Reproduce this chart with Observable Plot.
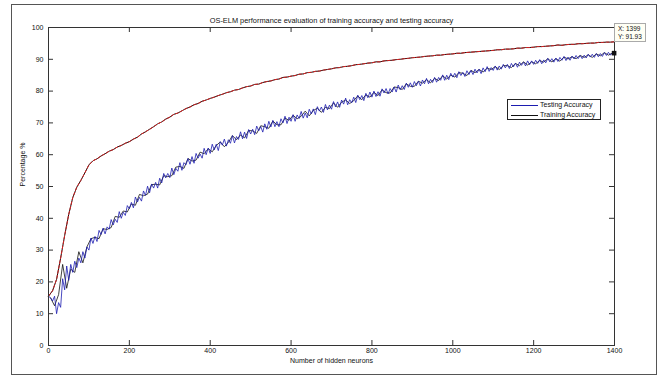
<!DOCTYPE html>
<html><head><meta charset="utf-8">
<script src="https://cdn.jsdelivr.net/npm/d3@7"></script>
<script src="https://cdn.jsdelivr.net/npm/@observablehq/plot@0.6"></script>
<style>
body{margin:0;background:#fff;}
#wrap{position:relative;width:659px;height:378px;font-family:"Liberation Sans",Arial,sans-serif;color:#111;}
#wrap svg{position:absolute;left:0;top:0;}
#outer{position:absolute;left:11px;top:4px;width:646px;height:371px;border:1px solid #555;box-sizing:border-box;pointer-events:none;}
#legend{position:absolute;left:507px;top:99px;width:94px;height:21px;border:1px solid #222;background:#fff;box-sizing:border-box;font-size:7px;}
#legend .row{position:absolute;left:3px;height:9px;line-height:9px;white-space:nowrap;}
#legend .sw{display:inline-block;width:27px;height:0;border-top:1px solid;vertical-align:middle;margin-right:2px;}
#tip{position:absolute;left:614px;top:23px;width:32px;height:19px;border:1px solid #aaa;background:#fffff4;box-sizing:border-box;font-size:6.5px;line-height:7.5px;padding:1px 0 0 3px;white-space:nowrap;}
</style></head>
<body>
<div id="wrap"><div id="outer"></div></div>
<script>
const title = "OS-ELM performance evaluation of training accuracy and testing accuracy";
const xLabel = "Number of hidden neurons";
const yLabel = "Percentage %";
const xTicks = [0,200,400,600,800,1000,1200,1400];
const yTicks = [0,10,20,30,40,50,60,70,80,90,100];
const seriesNames = ["Testing Accuracy","Training Accuracy"];
const tipX = 1399, tipY = 91.93;

// Training accuracy, neurons 0..1400 step 10
const trainingAcc = [
 15.5,17.2,20.8,27.5,34.6,41.2,46.5,49.8,51.9,54.3,
 56.8,58.1,58.7,59.6,60.3,61.1,61.6,62.4,62.9,63.6,
 64.1,64.9,65.5,66.5,67.2,68.0,68.8,69.7,70.3,71.2,
 71.8,72.7,73.1,73.8,74.5,75.0,75.7,76.1,76.8,77.2,
 77.7,78.1,78.6,79.0,79.5,79.8,80.3,80.5,81.0,81.4,
 81.6,82.1,82.2,82.7,83.0,83.2,83.6,83.8,84.3,84.4,
 84.7,84.9,85.3,85.4,85.8,85.9,86.2,86.3,86.6,86.8,
 87.0,87.3,87.4,87.7,87.8,88.0,88.3,88.4,88.6,88.8,
 88.9,89.2,89.2,89.5,89.6,89.7,89.9,90.0,90.2,90.3,
 90.5,90.6,90.7,90.9,91.0,91.1,91.3,91.3,91.5,91.6,
 91.7,91.9,91.9,92.1,92.2,92.3,92.4,92.5,92.6,92.7,
 92.8,93.0,93.0,93.2,93.2,93.3,93.5,93.5,93.7,93.7,
 93.8,94.0,94.0,94.1,94.2,94.3,94.5,94.4,94.6,94.7,
 94.7,94.9,94.9,95.0,95.1,95.1,95.3,95.3,95.4,95.4,
 95.5];

// Testing accuracy (blue trace), neurons 0..1400 step 5
const testingBlue = [
 15.5,15.0,14.0,15.5,10.0,13.5,12.0,21.0,17.5,25.0,20.5,25.5,23.0,26.5,24.5,27.5,26.0,29.5,27.5,31.0,30.0,
 33.8,32.1,34.3,32.7,36.2,34.9,36.9,35.1,37.3,36.6,
 39.6,37.9,39.7,38.7,42.1,40.0,41.9,40.9,44.0,43.0,
 45.0,43.3,46.7,45.1,46.6,45.4,48.6,47.2,50.1,48.0,
 50.8,49.5,51.3,49.5,52.6,51.1,54.1,52.7,54.1,52.8,
 55.8,53.7,55.7,54.8,57.5,55.1,57.5,56.8,58.8,57.0,
 59.4,57.3,60.4,58.9,60.2,58.9,62.0,60.0,62.1,60.4,
 63.3,61.5,63.3,61.3,64.1,63.0,64.9,62.7,64.7,63.6,
 66.0,63.7,65.7,64.8,67.2,65.0,67.1,65.1,67.9,66.5,
 68.0,66.3,69.0,67.5,68.8,67.1,69.7,68.0,70.5,68.7,
 70.8,68.8,70.4,68.8,71.3,70.0,72.1,69.8,71.8,70.5,
 72.6,70.5,72.5,71.4,73.6,71.5,73.1,71.6,74.3,72.8,
 74.4,72.6,75.1,73.7,75.0,73.3,75.8,74.1,75.6,74.3,
 76.7,75.0,76.6,74.9,77.2,75.9,77.8,75.7,77.3,76.3,
 78.1,76.4,78.7,77.3,78.6,77.0,79.3,77.9,79.7,78.1,
 80.0,78.3,79.8,78.4,80.7,79.4,80.8,79.1,80.8,79.7,
 81.3,79.7,81.9,80.4,81.7,80.5,82.5,81.2,82.6,81.2,
 83.0,81.7,83.1,81.6,83.5,82.3,84.0,82.3,83.7,82.7,
 84.3,82.8,84.3,83.4,85.1,83.4,85.0,83.6,85.6,84.4,
 85.6,84.2,86.1,84.9,85.9,84.6,86.4,85.2,86.5,85.2,
 86.9,85.7,86.9,85.5,87.3,86.1,87.7,86.2,87.4,86.5,
 87.9,86.6,87.9,86.9,88.4,87.3,88.4,87.1,88.7,87.6,
 88.8,87.5,89.1,88.1,89.1,87.9,89.5,88.3,89.5,88.4,
 89.7,88.7,89.9,88.6,89.8,88.9,90.3,89.2,90.2,89.1,
 90.4,89.3,90.6,89.7,90.9,89.6,90.7,89.7,91.0,90.1,
 91.2,90.2,91.2,90.2,91.3,90.4,91.6,90.7,91.6,90.6,
 91.8,90.8,91.8,90.9,92.1,91.2,92.2,91.3,92.1,91.93];

// Testing accuracy (black trace), neurons 5..1395 step 10
const testingBlack = [
 15.0,12.5,16.0,25.5,18.0,24.0,23.0,29.5,26.0,31.0,
 33.6,34.0,33.6,36.7,36.5,37.1,40.6,40.3,42.3,42.0,
 44.5,44.1,47.5,47.1,47.6,50.6,50.7,50.5,53.4,53.1,
 53.4,56.1,56.3,55.7,58.8,58.0,58.3,60.8,60.3,61.9,
 60.9,62.9,64.0,62.5,63.9,66.0,64.7,66.2,65.3,67.6,
 67.5,66.7,69.1,68.8,68.3,70.6,69.4,69.4,71.5,70.8,
 72.4,71.3,72.1,73.7,72.2,73.9,74.6,73.3,74.9,74.5,
 76.3,74.9,76.5,77.2,76.1,77.0,78.5,77.3,78.8,78.1,
 79.6,78.6,80.4,79.5,79.4,81.3,81.1,80.5,82.3,81.5,
 81.5,83.1,82.5,83.6,82.6,84.0,83.3,84.8,83.8,85.0,
 84.4,85.8,85.6,84.9,86.5,85.8,86.8,86.0,87.2,86.8,
 87.7,86.8,88.0,88.0,87.4,88.7,88.0,89.2,88.2,89.2,
 88.6,89.6,89.1,90.2,89.2,90.2,89.4,90.7,90.1,90.8,
 90.2,91.2,90.6,91.4,90.6,91.7,91.1,92.1,91.3,92.0];

const train = trainingAcc.map((y,i)=>({x:i*10, y}));
const blue = testingBlue.map((y,i)=>({x:i*5, y}));
const black = testingBlack.map((y,i)=>({x:5+i*10, y}));

const axisColor = "#333";
const ink = "#111";
const plot = Plot.plot({
  width:659, height:378,
  marginLeft:48, marginRight:45, marginTop:27, marginBottom:33,
  style:{fontFamily:"'Liberation Sans', Arial, sans-serif", fontSize:"7px", background:"transparent", color:ink},
  x:{domain:[0,1400]},
  y:{domain:[0,100]},
  marks:[
    Plot.line(black,{x:"x", y:"y", stroke:"#111", strokeWidth:0.8}),
    Plot.line(blue,{x:"x", y:"y", stroke:"#1c1cb0", strokeWidth:0.8}),
    Plot.line(train,{x:"x", y:"y", stroke:"#111", strokeWidth:1}),
    Plot.line(train,{x:"x", y:"y", stroke:"#d42222", strokeWidth:1, strokeDasharray:"3,2"}),
    Plot.frame({stroke:axisColor}),
    Plot.tickX(xTicks,{x:d=>d, insetTop:313, stroke:axisColor}),
    Plot.tickX(xTicks,{x:d=>d, insetBottom:313, stroke:axisColor}),
    Plot.tickY(yTicks,{y:d=>d, insetRight:561, stroke:axisColor}),
    Plot.tickY(yTicks,{y:d=>d, insetLeft:561, stroke:axisColor}),
    Plot.axisX(xTicks,{tickSize:0, tickPadding:3, label:null, tickFormat:d3.format("d"), fill:ink}),
    Plot.axisY(yTicks,{tickSize:0, tickPadding:5, label:null, tickFormat:d3.format("d"), fill:ink}),
    Plot.dot([{x:tipX, y:tipY}],{x:"x", y:"y", symbol:"square", fill:"#111", r:2.6}),
    Plot.text([title],{frameAnchor:"top", dy:-10, fontSize:7.4, fill:ink}),
    Plot.text([xLabel],{frameAnchor:"bottom", dy:17, fontSize:7, fill:ink}),
    Plot.text([yLabel],{frameAnchor:"left", dx:-26, rotate:-90, fontSize:7, fill:ink})
  ]
});
const wrap = document.getElementById("wrap");
wrap.insertBefore(plot, wrap.firstChild);

const legend = document.createElement("div");
legend.id = "legend";
legend.innerHTML =
  `<div class="row" style="top:0px"><span class="sw" style="border-color:#1c1cb0"></span>${seriesNames[0]}</div>` +
  `<div class="row" style="top:10px"><span class="sw" style="border-color:#111"></span>${seriesNames[1]}</div>`;
wrap.appendChild(legend);

const tip = document.createElement("div");
tip.id = "tip";
tip.innerHTML = `X: ${tipX}<br>Y: ${tipY}`;
wrap.appendChild(tip);
</script>
</body></html>
